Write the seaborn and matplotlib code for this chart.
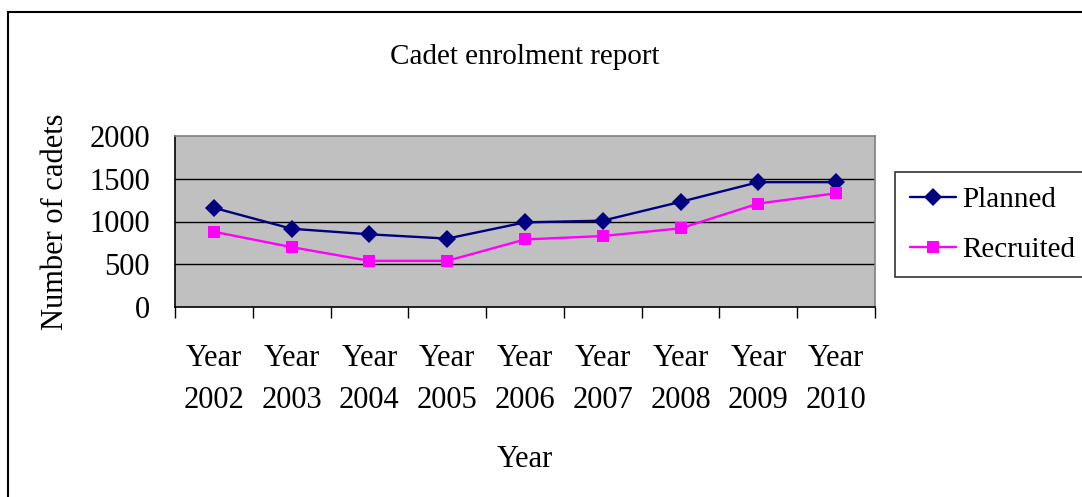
import numpy as np
import pandas as pd
import matplotlib
matplotlib.use('Agg')
import matplotlib.pyplot as plt
import seaborn as sns
from matplotlib.patches import Rectangle

# ------------------------------------------------------- #
#                          DATOS                          #
# ------------------------------------------------------- #
years = ['2002', '2003', '2004', '2005', '2006', '2007', '2008', '2009', '2010']
tick_labels = ['Year\n' + y for y in years]
planned = [1160, 915, 850, 800, 990, 1010, 1230, 1460, 1460]
recruited = [880, 700, 540, 540, 790, 830, 920, 1210, 1330]

df = pd.DataFrame({
    'year': years * 2,
    'cadets': planned + recruited,
    'serie': ['Planned'] * len(years) + ['Recruited'] * len(years),
})

sns.set_style('white')
plt.rcParams['font.family'] = ['Liberation Serif', 'DejaVu Serif']
plt.rcParams['text.color'] = 'black'
plt.rcParams['xtick.color'] = 'black'
plt.rcParams['ytick.color'] = 'black'
plt.rcParams['axes.labelcolor'] = 'black'

fig = plt.figure(figsize=(10.82, 4.97), dpi=100)
ax = fig.add_axes([175 / 1082, 1 - 307 / 497, 700 / 1082, 171 / 497])

sns.lineplot(data=df, x='year', y='cadets', hue='serie', style='serie',
             palette={'Planned': '#000080', 'Recruited': '#FF00FF'},
             markers={'Planned': 'D', 'Recruited': 's'}, dashes=False,
             markersize=9, markeredgewidth=0, linewidth=1.7, ax=ax)

ax.set_facecolor('#C0C0C0')
ax.set_xlim(-0.5, len(years) - 0.5)
ax.set_ylim(0, 2000)
ax.set_yticks([0, 500, 1000, 1500, 2000])
for v in [500, 1000, 1500]:
    ax.axhline(v, color='black', linewidth=1.0, zorder=0.5)

ax.set_xticks(range(len(years)))
ax.set_xticklabels(tick_labels, fontsize=22, linespacing=1.55)
ax.set_xticks(np.arange(-0.5, len(years), 1.0), minor=True)
ax.tick_params(axis='x', which='major', length=0, pad=27)
ax.tick_params(axis='x', which='minor', length=8, width=1, color='black',
               direction='out', bottom=True)
ax.tick_params(axis='y', length=0, labelsize=22, pad=18)

for s in ['left', 'bottom']:
    ax.spines[s].set_color('black')
    ax.spines[s].set_linewidth(1.2)
for s in ['top', 'right']:
    ax.spines[s].set_color('#808080')
    ax.spines[s].set_linewidth(1.2)

ax.set_xlabel('Year', fontsize=22, labelpad=22)
ax.set_ylabel('Number of cadets', fontsize=22, labelpad=14)
ax.set_title('Cadet enrolment report', fontsize=21, pad=52)

ax.legend(title=None, loc='upper left', bbox_to_anchor=(895 / 1082, 1 - 172 / 497),
          bbox_transform=fig.transFigure, fontsize=21, frameon=True,
          fancybox=False, edgecolor='black', handlelength=1.6,
          borderpad=0.5, labelspacing=0.8, handletextpad=0.2,
          borderaxespad=0)
leg = ax.get_legend()
leg.get_frame().set_linewidth(1.2)
for h in leg.legend_handles:
    h.set_markersize(9)

fig.patches.append(Rectangle((8 / 1082, -0.05), 1.1, 1 - 12 / 497 + 0.05,
                             transform=fig.transFigure, fill=False,
                             edgecolor='black', linewidth=1.5))

plt.savefig('out.png', dpi=100)
